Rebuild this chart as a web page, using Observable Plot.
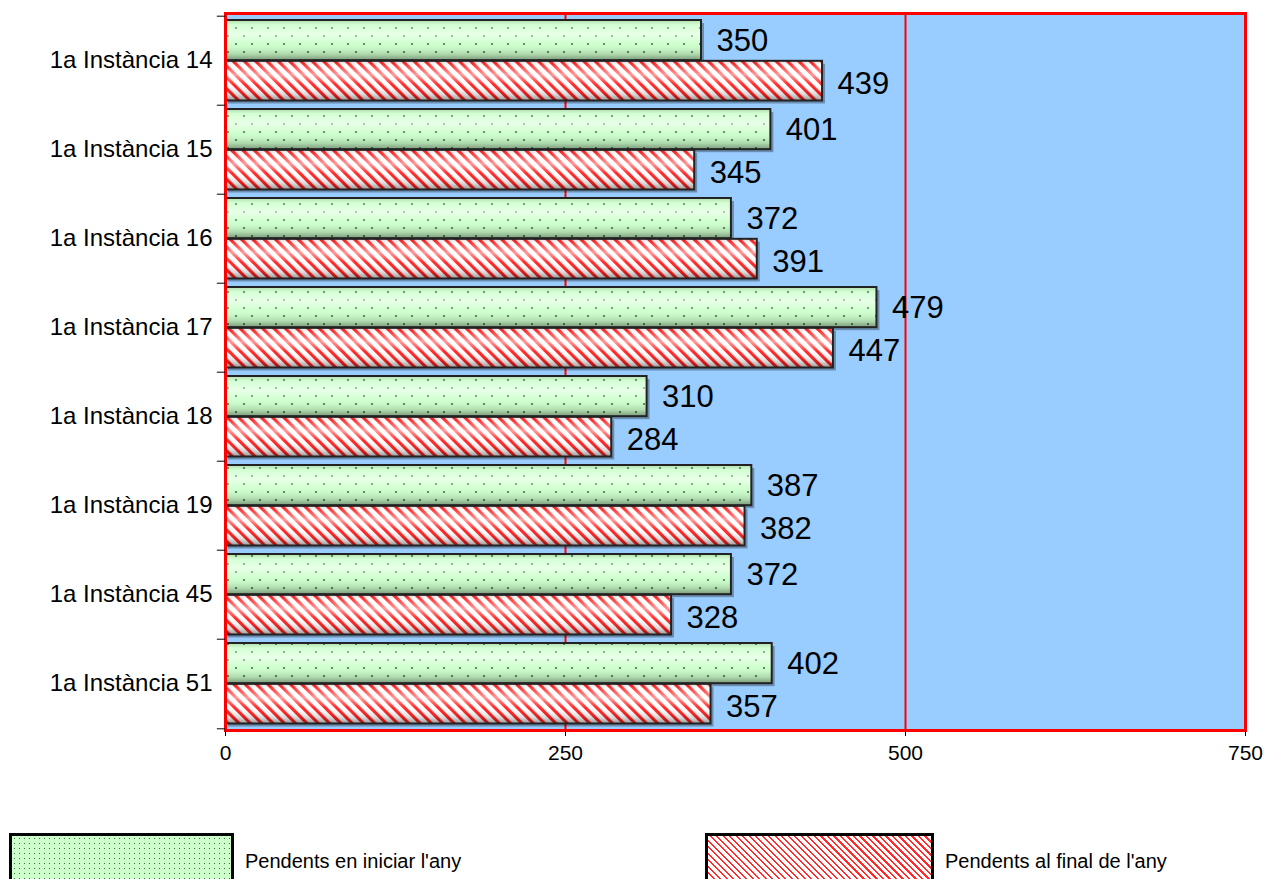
<!DOCTYPE html>
<html>
<head>
<meta charset="utf-8">
<script src="https://cdn.jsdelivr.net/npm/d3@7"></script>
<script src="https://cdn.jsdelivr.net/npm/@observablehq/plot@0.6"></script>
<style>
  html, body { margin: 0; padding: 0; background: #fff; overflow: hidden; }
  body { width: 1266px; height: 879px; position: relative; font-family: "Liberation Sans", Arial, sans-serif; }
  #chart { position: absolute; left: 0; top: 0; }
  .lg-box { position: absolute; top: 833px; height: 60px; box-sizing: border-box; border: 3px solid #000; }
  .lg-text { position: absolute; top: 848px; font-size: 20px; line-height: 26px; color: #000; white-space: nowrap; }
  #lg0 { left: 9px; width: 225px;
    background-color: #ccffcc;
    background-image: radial-gradient(circle, #3d6b3d 0.7px, transparent 1px);
    background-size: 5px 5px; }
  #lg1 { left: 705px; width: 229px;
    background: repeating-linear-gradient(45deg, #fff 0px, #fff 2.2px, #ff2a2a 2.2px, #ff2a2a 3.8px, #fff 3.8px, #fff 4.6px); }
</style>
</head>
<body>
<div id="chart"></div>
<div class="lg-box" id="lg0"></div><div class="lg-text" id="lt0" style="left:245px"></div>
<div class="lg-box" id="lg1"></div><div class="lg-text" id="lt1" style="left:945px"></div>
<script>
// ---- data ----
const categories = ["1a Instància 14", "1a Instància 15", "1a Instància 16", "1a Instància 17",
                    "1a Instància 18", "1a Instància 19", "1a Instància 45", "1a Instància 51"];
const seriesNames = ["Pendents en iniciar l'any", "Pendents al final de l'any"];
const inicial = [350, 401, 372, 479, 310, 387, 372, 402];
const final   = [439, 345, 391, 447, 284, 382, 328, 357];
const xTicks = [0, 250, 500, 750];
const gridValues = [250, 500];

const rowsA = categories.map((c, i) => ({category: c, series: seriesNames[0], value: inicial[i]}));
const rowsB = categories.map((c, i) => ({category: c, series: seriesNames[1], value: final[i]}));

const W = 1266, H = 790, mT = 13, mB = 60, mL = 225, mR = 21;
const band = (H - mT - mB) / categories.length;
const half = band / 2;
const pad = 4;

const plot = Plot.plot({
  width: W, height: H,
  marginTop: mT, marginBottom: mB, marginLeft: mL, marginRight: mR,
  style: {fontFamily: "'Liberation Sans', Arial, sans-serif", background: "transparent", color: "#000"},
  x: {domain: [0, 750], label: null},
  y: {domain: categories, padding: 0, label: null},
  marks: [
    Plot.frame({fill: "#99ccff", stroke: null}),
    Plot.ruleX(gridValues, {stroke: "#ff0000", strokeWidth: 2}),
    // shadows
    Plot.barX(rowsA, {x: "value", y: "category", insetTop: pad, insetBottom: half, fill: "#000", fillOpacity: 0.3, dx: 3, dy: 3}),
    Plot.barX(rowsB, {x: "value", y: "category", insetTop: half, insetBottom: pad + 0.5, fill: "#000", fillOpacity: 0.3, dx: 3, dy: 3}),
    // bars with patterns
    Plot.barX(rowsA, {x: "value", y: "category", insetTop: pad, insetBottom: half, fill: "url(#dots)"}),
    Plot.barX(rowsB, {x: "value", y: "category", insetTop: half, insetBottom: pad + 0.5, fill: "url(#stripes)"}),
    // cylinder shading + outline
    Plot.barX(rowsA, {x: "value", y: "category", insetTop: pad, insetBottom: half, fill: "url(#shade)", stroke: "#222", strokeWidth: 2}),
    Plot.barX(rowsB, {x: "value", y: "category", insetTop: half, insetBottom: pad + 0.5, fill: "url(#shade)", stroke: "#222", strokeWidth: 2}),
    // value labels
    Plot.text(rowsA, {x: "value", y: "category", text: d => String(d.value), dx: 15, dy: -half / 2 + 2, textAnchor: "start", fontSize: 31, fill: "#000"}),
    Plot.text(rowsB, {x: "value", y: "category", text: d => String(d.value), dx: 15, dy: half / 2 + 1, textAnchor: "start", fontSize: 31, fill: "#000"}),
    // red border
    Plot.frame({stroke: "#ff0000", strokeWidth: 3}),
    // category boundary ticks
    Plot.ruleY(categories, {y: d => d, x1: -6, x2: 0, dy: -half, stroke: "#000"}),
    Plot.ruleY(categories.slice(-1), {y: d => d, x1: -6, x2: 0, dy: half, stroke: "#000"}),
    Plot.axisY({tickSize: 0, tickPadding: 13, fontSize: 24, dy: -1}),
    Plot.axisX({ticks: xTicks, tickSize: 6, tickPadding: 9, fontSize: 21, tickFormat: d => String(d)})
  ]
});

const defs = d3.select(plot).insert("defs", ":first-child");
defs.html(`
  <pattern id="dots" patternUnits="userSpaceOnUse" width="16" height="16">
    <rect width="16" height="16" fill="#ccffcc"/>
    <circle cx="4" cy="4" r="1.1" fill="#3d6b3d"/>
    <circle cx="12" cy="12" r="1.1" fill="#3d6b3d"/>
  </pattern>
  <pattern id="stripes" patternUnits="userSpaceOnUse" width="8" height="8" patternTransform="rotate(-45)">
    <rect width="8" height="8" fill="#ffffff"/>
    <rect x="0" y="0" width="3.2" height="8" fill="#ff2020"/>
  </pattern>
  <linearGradient id="shade" x1="0" y1="0" x2="0" y2="1">
    <stop offset="0" stop-color="#000" stop-opacity="0.12"/>
    <stop offset="0.12" stop-color="#fff" stop-opacity="0.15"/>
    <stop offset="0.35" stop-color="#fff" stop-opacity="0.55"/>
    <stop offset="0.6" stop-color="#fff" stop-opacity="0.05"/>
    <stop offset="0.85" stop-color="#000" stop-opacity="0.15"/>
    <stop offset="1" stop-color="#000" stop-opacity="0.4"/>
  </linearGradient>
`);

document.getElementById("chart").appendChild(plot);
document.getElementById("lt0").textContent = seriesNames[0];
document.getElementById("lt1").textContent = seriesNames[1];
</script>
</body>
</html>
